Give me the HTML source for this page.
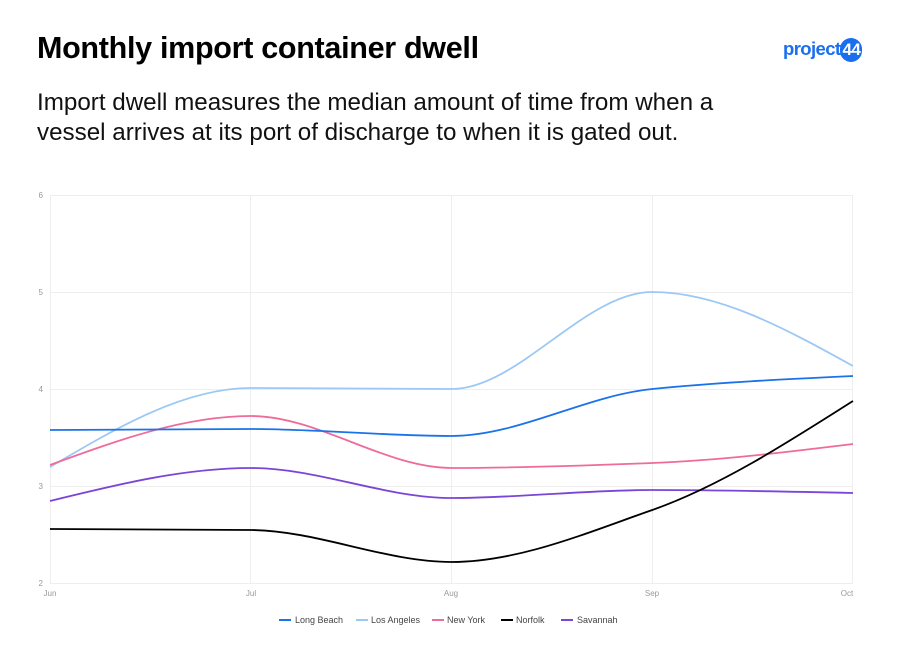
<!DOCTYPE html>
<html><head><meta charset="utf-8"><style>
body{margin:0;background:#fff;width:900px;height:664px;overflow:hidden;font-family:"Liberation Sans",sans-serif;}
.t{position:absolute;left:37px;top:31px;font-size:30.5px;font-weight:bold;color:#000;letter-spacing:-0.3px}
.s{position:absolute;left:37px;top:88px;font-size:24.2px;line-height:30px;color:#111}
.logo{position:absolute;left:783px;top:38px;font-size:18.5px;font-weight:bold;color:#1a6ef0;letter-spacing:-0.6px}
.logo span{display:inline-block;background:#1a6ef0;color:#fff;border-radius:13px;padding:0 2px;font-size:17px;line-height:24px}
</style></head><body>
<div class="t">Monthly import container dwell</div>
<div class="s">Import dwell measures the median amount of time from when a<br>vessel arrives at its port of discharge to when it is gated out.</div>
<div class="logo">project<span>44</span></div>
<svg width="900" height="664" style="position:absolute;left:0;top:0">
<g stroke="#eee" stroke-width="1">
<line x1="50" y1="195.5" x2="853" y2="195.5"/><line x1="50" y1="292.5" x2="853" y2="292.5"/><line x1="50" y1="389.5" x2="853" y2="389.5"/><line x1="50" y1="486.5" x2="853" y2="486.5"/><line x1="50" y1="583.5" x2="853" y2="583.5"/>
<line x1="50.5" y1="195" x2="50.5" y2="583"/><line x1="250.5" y1="195" x2="250.5" y2="583"/><line x1="451.5" y1="195" x2="451.5" y2="583"/><line x1="652.5" y1="195" x2="652.5" y2="583"/><line x1="852.5" y1="195" x2="852.5" y2="583"/>
</g>
<g font-size="8" fill="#999" text-anchor="end">
<text x="43" y="198">6</text><text x="43" y="295">5</text><text x="43" y="392">4</text><text x="43" y="489">3</text><text x="43" y="586">2</text>
</g>
<g font-size="8" fill="#999" text-anchor="middle">
<text x="50" y="596">Jun</text><text x="251" y="596">Jul</text><text x="451" y="596">Aug</text><text x="652" y="596">Sep</text><text x="847" y="596">Oct</text>
</g>
<g fill="none" stroke-width="1.8">
<path stroke="#9cc8f5" d="M50,467 C117,427.7 184,388 250.75,388 C318,388 385,389 451.5,389 C518,389 585,292 652.25,292 C719,292 786,329 853,366"/>
<path stroke="#ef6b9a" d="M50,465 C117,440.5 184,416 250.75,416 C318,416 385,468 451.5,468 C518,468 585,465.6 652.25,463 C719,460.4 786,452.2 853,444"/>
<path stroke="#7b45d6" d="M50,501 C117,484.5 184,468 250.75,468 C318,468 385,498 451.5,498 C518,498 585,490 652.25,490 C719,490 786,491.5 853,493"/>
<path stroke="#000" d="M50,529 C117,529.2 184,529.4 250.75,530 C318,530.6 385,562 451.5,562 C518,562 585,533.5 652.25,510 C719,486.5 786,443.7 853,401"/>
<path stroke="#1a73e8" d="M50,430 C117,429.5 184,429 250.75,429 C318,429 385,436 451.5,436 C518,436 585,395.7 652.25,389 C719,382.3 786,379.2 853,376"/>
</g>
<g font-size="9" fill="#444">
<line x1="279" y1="620" x2="291" y2="620" stroke="#1a73e8" stroke-width="2"/><text x="295" y="623">Long Beach</text>
<line x1="356" y1="620" x2="368" y2="620" stroke="#9cc8f5" stroke-width="2"/><text x="371" y="623">Los Angeles</text>
<line x1="432" y1="620" x2="444" y2="620" stroke="#ef6b9a" stroke-width="2"/><text x="447" y="623">New York</text>
<line x1="501" y1="620" x2="513" y2="620" stroke="#000" stroke-width="2"/><text x="516" y="623">Norfolk</text>
<line x1="561" y1="620" x2="573" y2="620" stroke="#7b45d6" stroke-width="2"/><text x="577" y="623">Savannah</text>
</g>
</svg>
</body></html>
